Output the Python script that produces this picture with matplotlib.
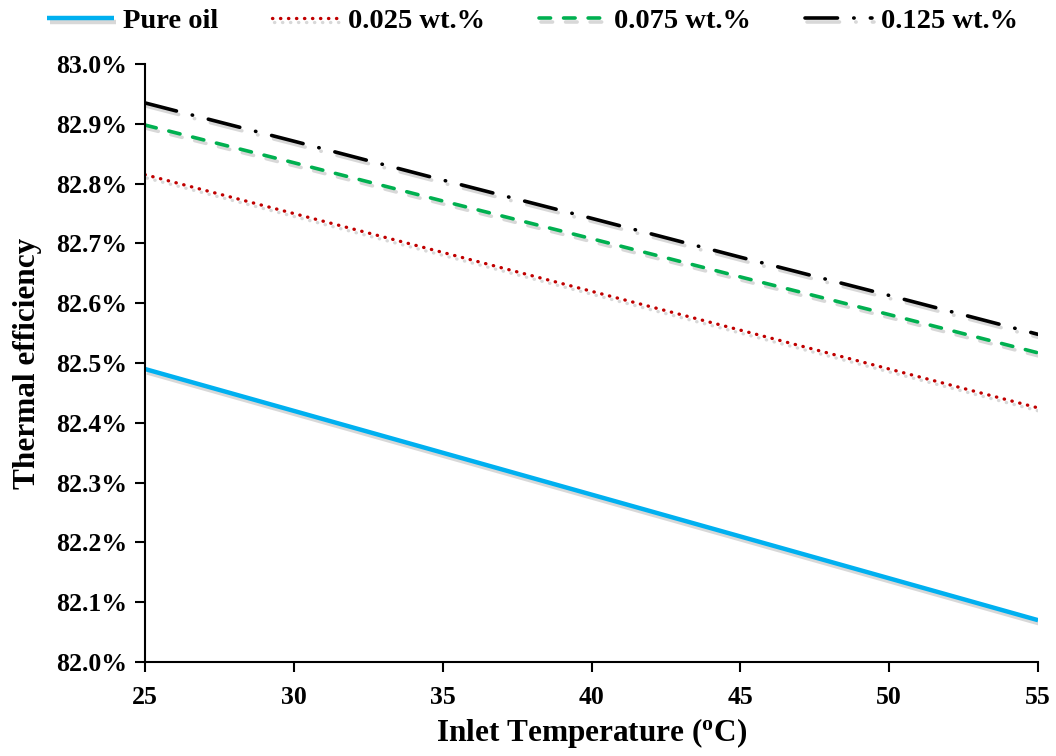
import matplotlib
matplotlib.use('Agg')
import matplotlib.pyplot as plt
import matplotlib.patheffects as pe
from matplotlib.ticker import FuncFormatter

# inlet temperature (oC) and thermal efficiency (%) for each fluid
temp = [25, 30, 35, 40, 45, 50, 55]
pure_oil = [82.49, 82.42, 82.35, 82.28, 82.21, 82.14, 82.07]
wt_0025 = [82.815, 82.75, 82.685, 82.62, 82.555, 82.49, 82.425]
wt_0075 = [82.898, 82.835, 82.771, 82.708, 82.644, 82.581, 82.517]
wt_0125 = [82.935, 82.871, 82.806, 82.742, 82.677, 82.613, 82.548]

plt.rcParams['font.family'] = 'Liberation Serif'
plt.rcParams['font.weight'] = 'bold'

fig = plt.figure(figsize=(10.56, 7.56), dpi=100)
ax = fig.add_axes([0.1373, 0.1243, 0.8457, 0.791])

shadow = [pe.SimpleLineShadow(offset=(1.5, -2.5), shadow_color='gray', alpha=0.3), pe.Normal()]

ax.plot(temp, pure_oil, color='#00B0F0', lw=3.2, label='Pure oil',
        solid_capstyle='butt', path_effects=shadow)
ax.plot(temp, wt_0025, color='#C00000', lw=2.4, label='0.025 wt.%',
        linestyle=(0, (0.1, 2.3)), dash_capstyle='round', path_effects=shadow)
ax.plot(temp, wt_0075, color='#00B050', lw=2.6, label='0.075 wt.%',
        linestyle=(0, (3.2, 3.6)), dash_capstyle='round', path_effects=shadow)
ax.plot(temp, wt_0125, color='black', lw=2.6, label='0.125 wt.%',
        linestyle=(0, (9, 4.5, 0.1, 4.5)), dash_capstyle='round', path_effects=shadow)

ax.set_xlim(25, 55)
ax.set_ylim(82.0, 83.0)
ax.set_xticks([25, 30, 35, 40, 45, 50, 55])
ax.set_yticks([82.0, 82.1, 82.2, 82.3, 82.4, 82.5, 82.6, 82.7, 82.8, 82.9, 83.0])
ax.yaxis.set_major_formatter(FuncFormatter(lambda v, p: f'{v:.1f}%'))

for s in ['top', 'right']:
    ax.spines[s].set_visible(False)
for s in ['left', 'bottom']:
    ax.spines[s].set_linewidth(1.5)
ax.tick_params(direction='out', length=7, width=1.5, labelsize=18.5)
ax.tick_params(axis='x', pad=10)
ax.tick_params(axis='y', pad=6)
for lab in ax.get_xticklabels() + ax.get_yticklabels():
    lab.set_fontweight('bold')

ax.set_xlabel('Inlet Temperature ($\\mathregular{^o}$C)', fontsize=22.5, fontweight='bold', labelpad=5)
ax.set_ylabel('Thermal efficiency', fontsize=22.5, fontweight='bold', labelpad=10)

ax.legend(loc='upper center', bbox_to_anchor=(0.434, 1.093), ncol=4, frameon=False,
          prop={'size': 20.5, 'weight': 'bold'}, handlelength=2.35, columnspacing=1.9,
          handletextpad=0.3, borderaxespad=0.0, borderpad=0.0)

fig.savefig('out.png', dpi=100)
